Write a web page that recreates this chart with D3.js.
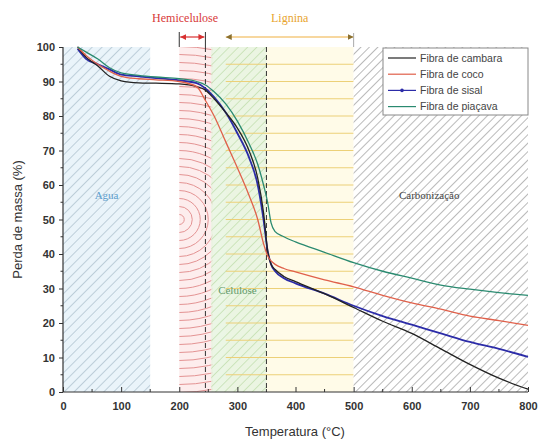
<!DOCTYPE html>
<html><head><meta charset="utf-8">
<script src="https://cdn.jsdelivr.net/npm/d3@7"></script>
<style>body{margin:0;background:#fff}svg{display:block}</style>
</head><body>
<svg id="c" width="539" height="441"></svg>
<script>
const temps = [25, 40, 60, 80, 100, 130, 160, 200, 230, 245, 260, 280, 300, 320, 335, 345, 352, 358, 365, 380, 400, 450, 500, 550, 600, 650, 700, 750, 800];
const cambara = [100, 97, 94.5, 91.5, 90.2, 89.6, 89.5, 89.3, 88.5, 87.5, 85, 81, 76.5, 70, 62, 52, 41, 37, 35.5, 33.5, 32, 28.5, 24.5, 20.5, 17, 12.5, 8, 4, 0.8];
const coco = [100, 97.5, 95, 93, 91.5, 90.8, 90.5, 90, 88.5, 84.5, 80, 72.5, 65, 57, 50, 43, 39.5, 38, 37, 35.8, 34.8, 32.5, 30.5, 28, 25.8, 24, 22, 20.7, 19.3];
const sisal = [99.5, 96.5, 95, 93.5, 92, 91.5, 91, 90.3, 89.5, 88, 85.5, 81, 75, 68, 60, 50, 41, 37, 35, 33, 31.5, 28.5, 25, 22, 19.5, 17, 14.5, 12.5, 10.2];
const piacava = [100, 98.5, 96.5, 94, 92.5, 91.8, 91.3, 90.8, 90, 89, 87, 83.5, 78.5, 72, 66, 60, 55, 49, 46.5, 45, 43.5, 40.5, 37.5, 35, 33, 31, 29.8, 28.8, 28];
const seriesNames = ["Fibra de cambara", "Fibra de coco", "Fibra de sisal", "Fibra de piaçava"];
const seriesColors = ["#222222", "#e0604a", "#2c2ca8", "#2a8a70"];
const xTicks = [0, 100, 200, 300, 400, 500, 600, 700, 800];
const yTicks = [0, 10, 20, 30, 40, 50, 60, 70, 80, 90, 100];
// regions [start, end]
const agua = [0, 150], hemi = [200, 258], celulose = [255, 350], lignina = [280, 500], carbon = [500, 800];
const dashedLines = [245, 350];
const hemiArrow = [200, 245], ligArrow = [280, 500];

const svg = d3.select("#c");
const x = d3.scaleLinear().domain([0, 800]).range([63, 528]);
const y = d3.scaleLinear().domain([0, 100]).range([392, 47]);
const defs = svg.append("defs");

function hatch(id, spacing, stroke, bg, sw) {
  const p = defs.append("pattern").attr("id", id).attr("patternUnits", "userSpaceOnUse")
    .attr("width", spacing).attr("height", spacing).attr("patternTransform", "rotate(45)");
  if (bg) p.append("rect").attr("width", spacing).attr("height", spacing).attr("fill", bg);
  p.append("line").attr("x1", 0).attr("y1", 0).attr("x2", 0).attr("y2", spacing)
    .attr("stroke", stroke).attr("stroke-width", sw);
}
hatch("pAgua", 7, "#9fb4c3", "#eaf4fa", 1.2);
hatch("pCel", 6.5, "#b3d59c", "rgba(232,244,224,0.85)", 1.1);
hatch("pCarb", 6, "#757575", "#ffffff", 1);

const y0 = y(0), y1 = y(100);
// Agua
svg.append("rect").attr("x", x(agua[0])).attr("y", y1).attr("width", x(agua[1]) - x(agua[0])).attr("height", y0 - y1).attr("fill", "url(#pAgua)");
// Hemicelulose: concentric arcs
defs.append("clipPath").attr("id", "clipHemi").append("rect")
  .attr("x", x(hemi[0])).attr("y", y1).attr("width", x(hemi[1]) - x(hemi[0])).attr("height", y0 - y1);
svg.append("rect").attr("x", x(hemi[0])).attr("y", y1).attr("width", x(hemi[1]) - x(hemi[0])).attr("height", y0 - y1).attr("fill", "#fdeded");
const hg = svg.append("g").attr("clip-path", "url(#clipHemi)");
hg.selectAll("circle").data(d3.range(5, 190, 8)).join("circle")
  .attr("cx", x(hemi[0])).attr("cy", y(50)).attr("r", d => d)
  .attr("fill", "none").attr("stroke", "#e39393").attr("stroke-width", 1);
// Lignina background
svg.append("rect").attr("x", x(lignina[0])).attr("y", y1).attr("width", x(lignina[1]) - x(lignina[0])).attr("height", y0 - y1).attr("fill", "#fffbe8");
// Celulose
svg.append("rect").attr("x", x(celulose[0])).attr("y", y1).attr("width", x(celulose[1]) - x(celulose[0])).attr("height", y0 - y1).attr("fill", "url(#pCel)");
// Lignina lines
svg.append("g").selectAll("line").data(d3.range(5, 100, 5)).join("line")
  .attr("x1", x(lignina[0])).attr("x2", x(lignina[1])).attr("y1", d => y(d)).attr("y2", d => y(d))
  .attr("stroke", "#ecd078").attr("stroke-width", 1.1);
// Carbonizacao
svg.append("rect").attr("x", x(carbon[0])).attr("y", y1).attr("width", x(carbon[1]) - x(carbon[0])).attr("height", y0 - y1).attr("fill", "url(#pCarb)");

// dashed lines
svg.append("g").selectAll("line").data(dashedLines).join("line")
  .attr("x1", d => x(d)).attr("x2", d => x(d)).attr("y1", y1).attr("y2", y0)
  .attr("stroke", "#333").attr("stroke-width", 1).attr("stroke-dasharray", "5,3");

// region labels
const serif = "'Liberation Serif','Times New Roman',serif";
svg.append("text").attr("x", x(75)).attr("y", y(56)).attr("text-anchor", "middle").attr("font-family", serif).attr("font-size", 11).attr("fill", "#5a9ccc").text("Agua");
svg.append("text").attr("x", x(300)).attr("y", y(28.5)).attr("text-anchor", "middle").attr("font-family", serif).attr("font-size", 11).attr("fill", "#5f9a6a").text("Celulose");
svg.append("text").attr("x", x(630)).attr("y", y(56)).attr("text-anchor", "middle").attr("font-family", serif).attr("font-size", 11).attr("fill", "#444").text("Carbonização");

// curves
const allSeries = [cambara, coco, sisal, piacava];
const line = d3.line().x((d, i) => x(temps[i])).y(d => y(d)).curve(d3.curveMonotoneX);
const order = [2, 0, 1, 3];
order.forEach(k => {
  svg.append("path").datum(allSeries[k]).attr("d", line).attr("fill", "none")
    .attr("stroke", seriesColors[k]).attr("stroke-width", k === 2 ? 1.8 : 1.3);
});

// axes
const sans = "'Liberation Sans',Arial,sans-serif";
const xAxis = svg.append("g").attr("transform", `translate(0,${y0})`)
  .call(d3.axisBottom(x).tickValues(xTicks).tickSize(-5).tickPadding(10));
xAxis.append("g").selectAll("line").data(d3.range(50, 800, 100)).join("line")
  .attr("x1", d => x(d)).attr("x2", d => x(d)).attr("y1", 0).attr("y2", -3).attr("stroke", "#333");
const yAxis = svg.append("g").attr("transform", `translate(${x(0)},0)`)
  .call(d3.axisLeft(y).tickValues(yTicks).tickSize(4).tickPadding(4));
yAxis.append("g").selectAll("line").data(d3.range(5, 100, 10)).join("line")
  .attr("x1", 0).attr("x2", -2.5).attr("y1", d => y(d)).attr("y2", d => y(d)).attr("stroke", "#333");
[xAxis, yAxis].forEach(a => {
  a.selectAll("path.domain").attr("stroke", "#333").attr("stroke-width", 1.2);
  a.selectAll(".tick line").attr("stroke", "#333");
  a.selectAll("text").attr("font-family", sans).attr("font-size", 11).attr("font-weight", "bold").attr("fill", "#333");
});
xAxis.select("path.domain").attr("d", `M${x(0)},0H${x(800)}`);
yAxis.select("path.domain").attr("d", `M0,${y0}V${y1}`);

svg.append("text").attr("x", 295).attr("y", 436).attr("text-anchor", "middle").attr("font-family", sans).attr("font-size", 13).attr("fill", "#333").text("Temperatura (°C)");
svg.append("text").attr("transform", `translate(22,${(y0 + y1) / 2}) rotate(-90)`).attr("text-anchor", "middle").attr("font-family", sans).attr("font-size", 13).attr("fill", "#333").text("Perda de massa (%)");

// top annotations
defs.append("marker").attr("id", "arR").attr("viewBox", "0 0 10 10").attr("refX", 10).attr("refY", 5).attr("markerWidth", 5).attr("markerHeight", 5).attr("orient", "auto-start-reverse")
  .append("path").attr("d", "M0,0L10,5L0,10z").attr("fill", "#d83030");
defs.append("marker").attr("id", "arO").attr("viewBox", "0 0 10 10").attr("refX", 10).attr("refY", 5).attr("markerWidth", 5).attr("markerHeight", 5).attr("orient", "auto-start-reverse")
  .append("path").attr("d", "M0,0L10,5L0,10z").attr("fill", "#8a7030");
const ay = 37;
svg.append("line").attr("x1", x(hemiArrow[0]) + 1).attr("x2", x(hemiArrow[1]) - 1).attr("y1", ay).attr("y2", ay)
  .attr("stroke", "#d83030").attr("stroke-width", 1.2).attr("marker-start", "url(#arR)").attr("marker-end", "url(#arR)");
hemiArrow.forEach(d => svg.append("line").attr("x1", x(d)).attr("x2", x(d)).attr("y1", 32).attr("y2", 47).attr("stroke", "#333").attr("stroke-width", 1));
svg.append("text").attr("x", x(210)).attr("y", 22).attr("text-anchor", "middle").attr("font-family", serif).attr("font-size", 12).attr("fill", "#d83a3a").text("Hemicelulose");
svg.append("line").attr("x1", x(ligArrow[0])).attr("x2", x(ligArrow[1])).attr("y1", ay).attr("y2", ay)
  .attr("stroke", "#f0b040").attr("stroke-width", 1.2).attr("marker-start", "url(#arO)").attr("marker-end", "url(#arO)");
svg.append("line").attr("x1", x(ligArrow[1])).attr("x2", x(ligArrow[1])).attr("y1", 33).attr("y2", 47).attr("stroke", "#aaa").attr("stroke-width", 1);
svg.append("text").attr("x", x(390)).attr("y", 22).attr("text-anchor", "middle").attr("font-family", serif).attr("font-size", 12).attr("fill", "#e8a530").text("Lignina");

// legend
const lg = svg.append("g").attr("transform", "translate(383,48)");
lg.append("rect").attr("width", 145).attr("height", 67).attr("fill", "#fff").attr("stroke", "#888").attr("stroke-width", 1);
seriesNames.forEach((n, i) => {
  const yy = 10 + i * 16.2;
  lg.append("line").attr("x1", 5).attr("x2", 33).attr("y1", yy).attr("y2", yy).attr("stroke", seriesColors[i]).attr("stroke-width", 1.2);
  if (i === 2) lg.append("circle").attr("cx", 19).attr("cy", yy).attr("r", 1.8).attr("fill", seriesColors[i]);
  lg.append("text").attr("x", 37).attr("y", yy + 3.5).attr("font-family", sans).attr("font-size", 10.5).attr("fill", "#444").text(n);
});
</script>
</body></html>
